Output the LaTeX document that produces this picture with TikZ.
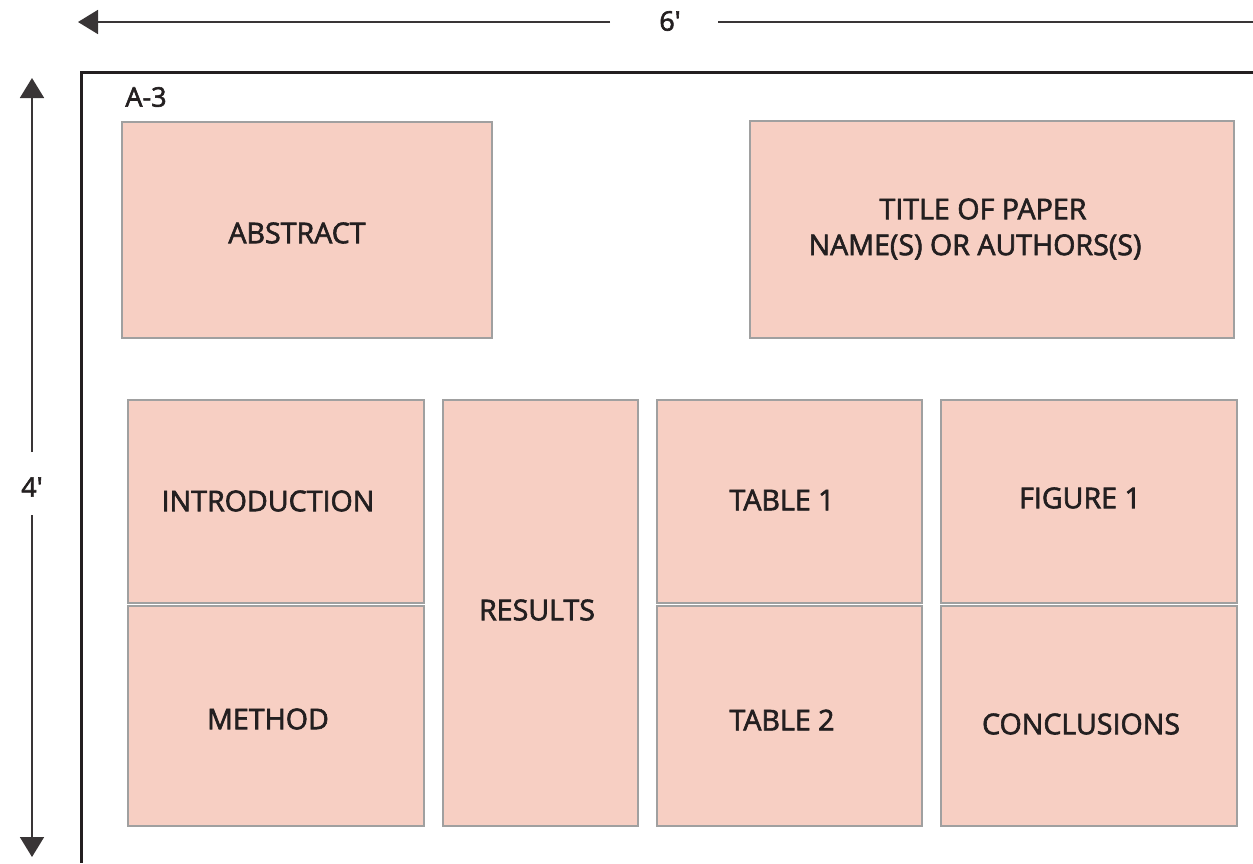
\documentclass[tikz,border=0pt]{standalone}
\usepackage{fontspec}
\setmainfont{Open Sans}
\newfontfamily\medfont{Open Sans}[FakeBold=2.2]
\usetikzlibrary{arrows.meta}
\definecolor{boxfill}{HTML}{F7CFC3}
\definecolor{boxline}{HTML}{A0A0A0}
\definecolor{ink}{HTML}{231F20}
\begin{document}
\begin{tikzpicture}[x=1pt,y=-1pt,
  panel/.style={draw=boxline,fill=boxfill,line width=1.3pt,inner sep=0pt},
  lbl/.style={text=ink,font=\medfont\fontsize{28.6}{34}\selectfont,align=center,inner sep=0pt},
  small/.style={text=ink,font=\medfont\fontsize{27}{30}\selectfont,inner sep=0pt},
  frame/.style={draw=ink,line width=3pt},
  dim/.style={draw=ink!90,line width=1.8pt},
  tip/.style={-{Triangle[length=20pt,width=24pt]}}
]
\useasboundingbox (0,0) rectangle (1253,863);
% outer frame
\draw[frame] (1253,72) -- (81,72) -- (81,863);
% dimension marks
\node[small] (six) at (670,21) {6\textquotesingle};
\node[small] (four) at (32,487) {4\textquotesingle};
\coordinate (tl) at (78,22);
\coordinate (tr) at (1253,22);
\coordinate (vt) at (32,78);
\coordinate (vb) at (32,857);
\draw[dim,tip] (610,22) -- (tl);
\draw[dim] (718,22) -- (tr);
\draw[dim,tip] (32,452) -- (vt);
\draw[dim,tip] (32,515) -- (vb);
\node[small] (a3) at (146,97) {A-3};
% panels
\path[panel] (122,122) rectangle (492,338) node[pos=0.5] (abs) {};
\path[panel] (750,121) rectangle (1234,338) node[pos=0.5] (title) {};
\path[panel] (128,400) rectangle (424,603) node[pos=0.5] (intro) {};
\path[panel] (128,606) rectangle (424,826) node[pos=0.5] (meth) {};
\path[panel] (443,400) rectangle (638,826) node[pos=0.5] (res) {};
\path[panel] (657,400) rectangle (922,603) node[pos=0.5] (tab1) {};
\path[panel] (657,606) rectangle (922,826) node[pos=0.5] (tab2) {};
\path[panel] (941,400) rectangle (1237,603) node[pos=0.5] (fig1) {};
\path[panel] (941,606) rectangle (1237,826) node[pos=0.5] (conc) {};
% labels
\node[lbl] (tabs) at (297,233) {ABSTRACT};
\node[lbl] (ttitle) at (983,209) {TITLE OF PAPER};
\node[lbl] (tauth) at (975,247) {NAME(S) OR AUTHORS(S)};
\node[lbl] (tintro) at (268,501) {INTRODUCTION};
\node[lbl] (tmeth) at (268,719) {METHOD};
\node[lbl] (tres) at (537,610) {RESULTS};
\node[lbl] (ttab1) at (782,500) {TABLE 1};
\node[lbl] (ttab2) at (782,720) {TABLE 2};
\node[lbl] (tfig1) at (1080,498) {FIGURE 1};
\node[lbl] (tconc) at (1081,724) {CONCLUSIONS};
\end{tikzpicture}
\end{document}
